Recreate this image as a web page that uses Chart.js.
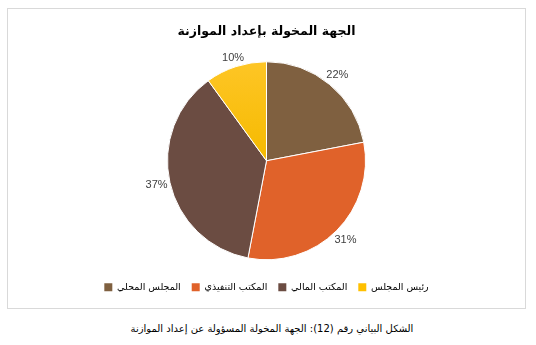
<!DOCTYPE html>
<html><head><meta charset="utf-8">
<script src="https://cdn.jsdelivr.net/npm/chart.js@4.4.0/dist/chart.umd.min.js"></script>
<style>
html,body{margin:0;padding:0;background:#fff;width:536px;height:345px;overflow:hidden}
#box{position:absolute;left:7px;top:8px;width:517px;height:299px;border:1px solid #d9d9d9}
#caption{position:absolute;left:0;top:323px;width:544px;text-align:center;font:10px "DejaVu Sans","Noto Sans",sans-serif;direction:rtl;color:#000}
</style></head><body>
<div id="box"><canvas id="c" width="517" height="299"></canvas></div>
<div id="caption">الشكل البياني رقم (12): الجهة المخولة المسؤولة عن إعداد الموازنة</div>
<script>
const categories = ["المجلس المحلي", "المكتب التنفيذي", "المكتب المالي", "رئيس المجلس"];
const values = [22, 31, 37, 10];
const colors = ["#7F6040", "#E0622A", "#6B4C42", "#FFC000"];
const titleText = "الجهة المخولة بإعداد الموازنة";

const labelPlugin = {
  id: 'outLabels',
  afterDatasetsDraw(chart) {
    const ctx = chart.ctx;
    const meta = chart.getDatasetMeta(0);
    const total = values.reduce((a, b) => a + b, 0);
    ctx.save();
    ctx.font = '11px "Liberation Sans", Arial, sans-serif';
    ctx.fillStyle = '#404040';
    ctx.textAlign = 'center';
    ctx.textBaseline = 'middle';
    meta.data.forEach((arc, i) => {
      const p = arc.getProps(['x', 'y', 'startAngle', 'endAngle', 'outerRadius']);
      const mid = (p.startAngle + p.endAngle) / 2;
      const txt = Math.round(values[i] / total * 100) + '%';
      const hw = ctx.measureText(txt).width / 2, hh = 4;
      const c = Math.cos(mid), s = Math.sin(mid);
      const d = p.outerRadius + 2 + hw * Math.abs(c) + hh * Math.abs(s);
      ctx.fillText(txt, p.x + c * d, p.y + s * d);
    });
    ctx.restore();
  }
};

new Chart(document.getElementById('c'), {
  type: 'pie',
  data: {
    labels: categories,
    datasets: [{
      data: values,
      backgroundColor: (ctx) => {
        const i = ctx.dataIndex;
        if (i === 3 && ctx.chart.chartArea) {
          const a = ctx.chart.chartArea;
          const g = ctx.chart.ctx.createLinearGradient(0, a.top, 0, a.top + 110);
          g.addColorStop(0, '#FFC72A');
          g.addColorStop(1, '#F5BA00');
          return g;
        }
        return colors[i];
      },
      borderColor: '#ffffff',
      borderWidth: 1,
      radius: 99
    }]
  },
  options: {
    responsive: false,
    animation: false,
    devicePixelRatio: 1,
    layout: { padding: { bottom: 6 } },
    plugins: {
      title: {
        display: true,
        text: titleText,
        color: '#000',
        font: { family: '"DejaVu Sans", sans-serif', size: 12.5, weight: 'bold' },
        padding: { top: 15, bottom: 11 }
      },
      legend: {
        position: 'bottom',
        labels: {
          boxWidth: 8, boxHeight: 8, padding: 11,
          color: '#404040',
          font: { family: '"DejaVu Sans", sans-serif', size: 9.5 },
          generateLabels: (chart) => categories.map((t, i) => ({
            text: t, fillStyle: colors[i], strokeStyle: colors[i], lineWidth: 0, index: i, hidden: false
          }))
        }
      },
      tooltip: { enabled: false }
    }
  },
  plugins: [labelPlugin]
});
</script>
</body></html>
